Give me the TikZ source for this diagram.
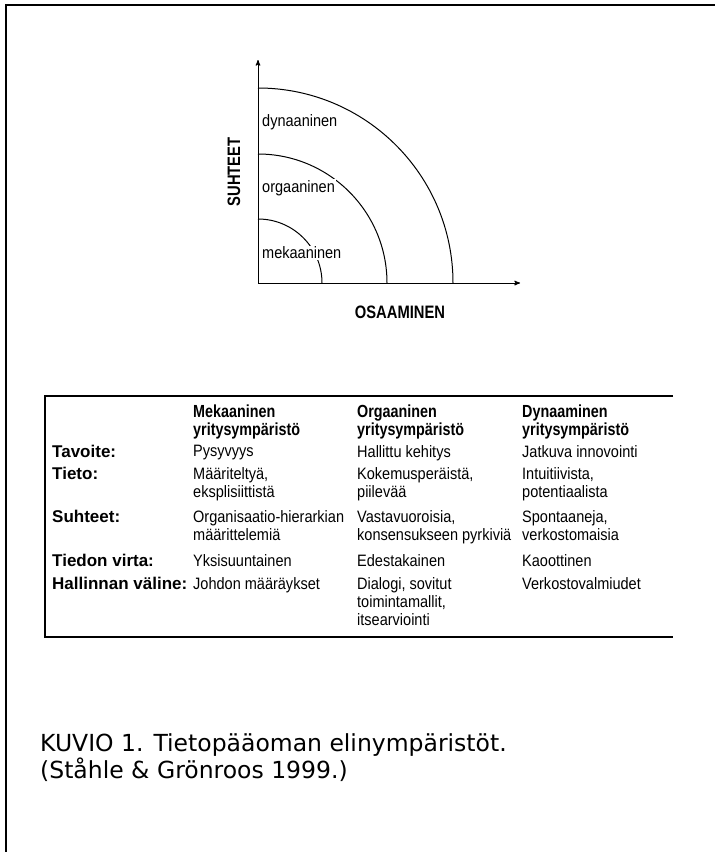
\documentclass[tikz,border=0pt]{standalone}
\usepackage{fontspec}
\setmainfont{Liberation Sans}
\newfontfamily\condfont[FakeStretch=0.88]{Liberation Sans}
\newfontfamily\hdrfont[FakeStretch=0.82]{Liberation Sans}
\newfontfamily\capfont{DejaVu Sans}
\usetikzlibrary{arrows,positioning,calc}

\begin{document}
\begin{tikzpicture}[
        x=1pt, y=1pt,
        frame/.style={black, line width=1.6pt},
        rule/.style={black, line width=1.2pt},
        zone/.style={black, line width=1pt},
        axis/.style={line width=1pt, ->, >=stealth', line join=miter},
        zonelbl/.style={anchor=west, inner sep=1pt, fill=white,
            font=\condfont\fontsize{16.5}{16.5}\selectfont},
        axlbl/.style={inner sep=0pt, font=\hdrfont\bfseries\fontsize{18}{18}\selectfont},
        colhead/.style={anchor=north west, align=left, inner sep=0pt,
            font=\hdrfont\bfseries\fontsize{17.5}{18}\selectfont},
        rowhead/.style={anchor=north west, inner sep=0pt,
            font=\bfseries\fontsize{17}{18}\selectfont},
        cell/.style={anchor=north west, align=left, inner sep=0pt,
            font=\condfont\fontsize{16.5}{18}\selectfont},
    ]
    \useasboundingbox (0,0) rectangle (715,-852);
    % frame
    \draw[frame] (6,-852) -- (6,-5) -- (715,-5);

    % axis
    \coordinate (O) at (258,-283);
    \draw[axis] (O) -- (520,-283) coordinate (xend);
    \draw[axis] (O) -- (258,-60) coordinate (yend);
    \node[axlbl,rotate=90] (suhteet) at (234,-172) {SUHTEET};
    \node[axlbl] (osaaminen) at (400,-312) {OSAAMINEN};

    % zones
    \draw[zone] (O) ++(0,195) arc (90:0:195);
    \draw[zone] (O) ++(0,129) arc (90:0:129);
    \draw[zone] (O) ++(0,64) arc (90:0:64);
    \node[zonelbl] (dyn) at (261,-122) {dynaaninen};
    \node[zonelbl] (org) at (261,-188) {orgaaninen};
    \node[zonelbl] (mek) at (261,-253) {mekaaninen};

    % table
    \draw[rule] (673,-396) -- (45,-396) -- (45,-637) -- (673,-637);
    \node[colhead] (h1) at (193,-405) {Mekaaninen\\yritysympäristö};
    \node[colhead] (h2) at (357,-405) {Orgaaninen\\yritysympäristö};
    \node[colhead] (h3) at (522,-405) {Dynaaminen\\yritysympäristö};

    \node[rowhead] (r1) at (52,-445) {Tavoite:};
    \node[cell] (c11) at (193,-445) {Pysyvyys};
    \node[cell] (c12) at (357,-445) {Hallittu kehitys};
    \node[cell] (c13) at (522,-445) {Jatkuva innovointi};

    \node[rowhead] (r2) at (52,-467) {Tieto:};
    \node[cell] (c21) at (193,-467) {Määriteltyä,\\eksplisiittistä};
    \node[cell] (c22) at (357,-467) {Kokemusperäistä,\\piilevää};
    \node[cell] (c23) at (522,-467) {Intuitiivista,\\potentiaalista};

    \node[rowhead] (r3) at (52,-510) {Suhteet:};
    \node[cell] (c31) at (193,-510) {Organisaatio-hierarkian\\määrittelemiä};
    \node[cell] (c32) at (357,-510) {Vastavuoroisia,\\konsensukseen pyrkiviä};
    \node[cell] (c33) at (522,-510) {Spontaaneja,\\verkostomaisia};

    \node[rowhead] (r4) at (52,-554) {Tiedon virta:};
    \node[cell] (c41) at (193,-554) {Yksisuuntainen};
    \node[cell] (c42) at (357,-554) {Edestakainen};
    \node[cell] (c43) at (522,-554) {Kaoottinen};

    \node[rowhead] (r5) at (52,-577) {Hallinnan väline:};
    \node[cell] (c51) at (193,-577) {Johdon määräykset};
    \node[cell] (c52) at (357,-577) {Dialogi, sovitut\\toimintamallit,\\itsearviointi};
    \node[cell] (c53) at (522,-577) {Verkostovalmiudet};

    % caption
    \node[anchor=base west, align=left, inner sep=0pt,
        font=\capfont\fontsize{23.5}{27}\selectfont] (kuvio) at (40,-778)
        {KUVIO 1. Tietopääoman elinympäristöt.\\(Ståhle \& Grönroos 1999.)};
\end{tikzpicture}
\end{document}
